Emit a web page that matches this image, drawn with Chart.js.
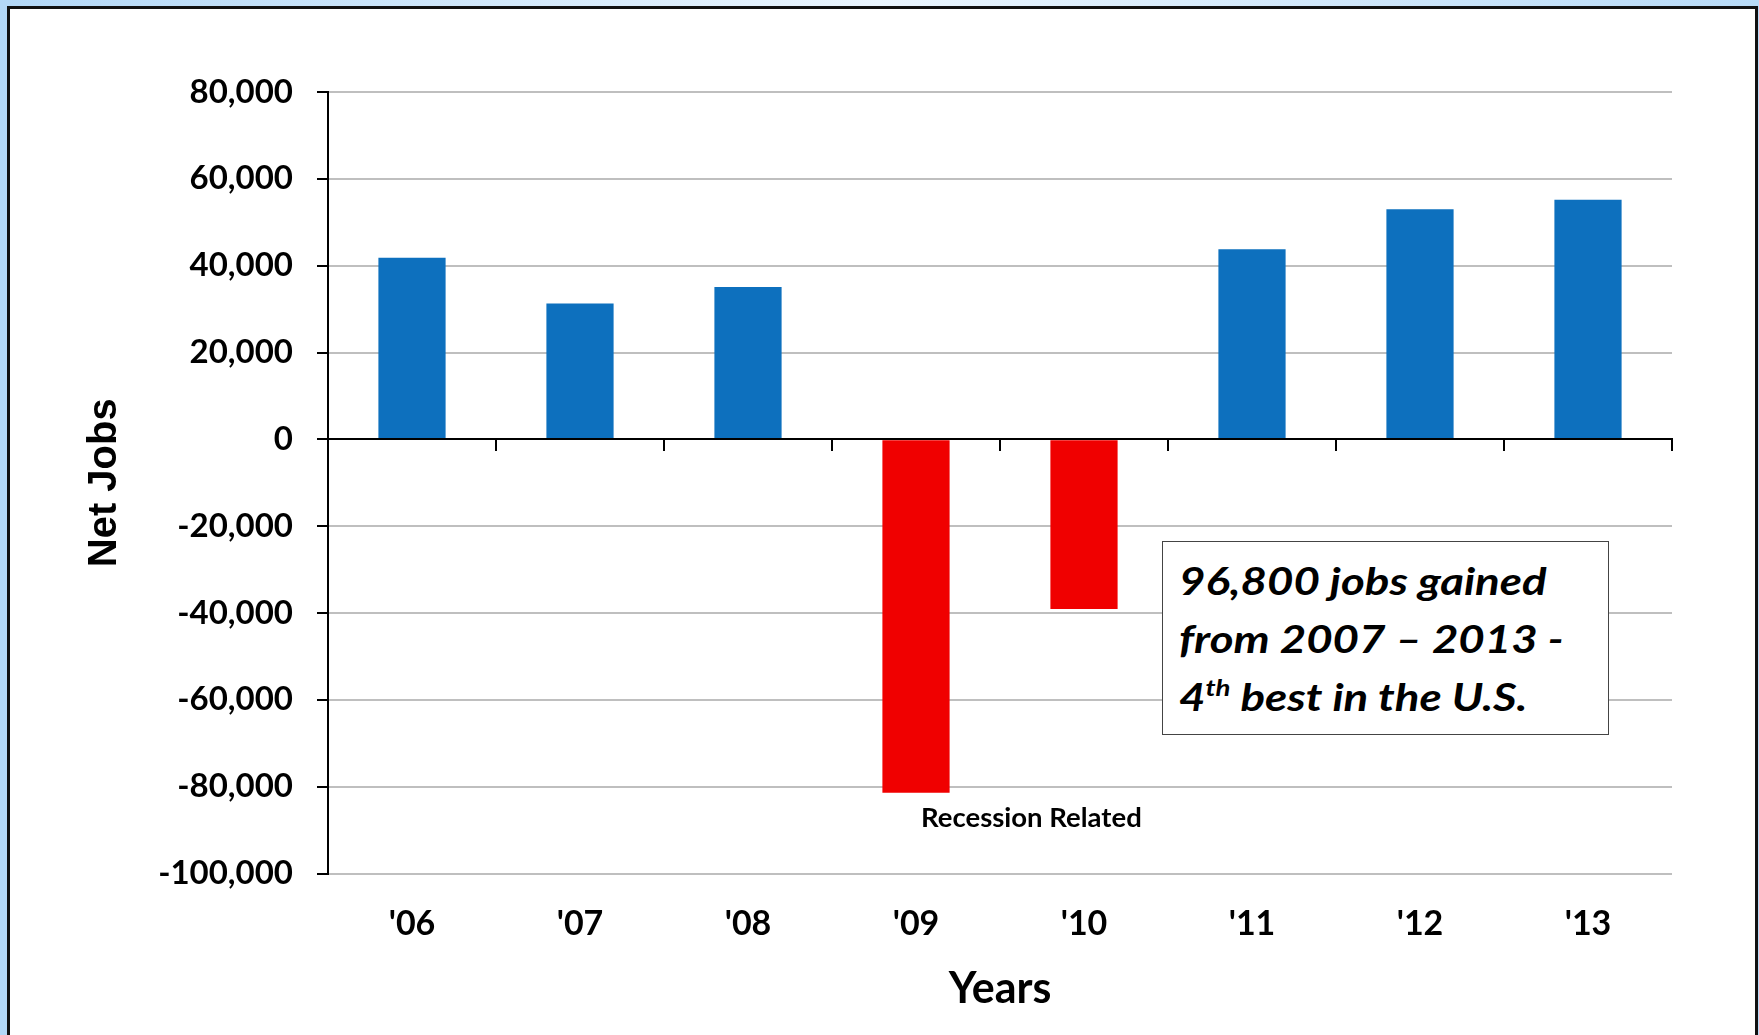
<!DOCTYPE html>
<html>
<head>
<meta charset="utf-8">
<script src="https://cdn.jsdelivr.net/npm/chart.js@4.4.1/dist/chart.umd.min.js"></script>
<style>
  html, body { margin: 0; padding: 0; width: 1759px; height: 1035px; overflow: hidden; }
  body { position: relative; background: linear-gradient(to right, #b3d8f7 0%, #eaf5fe 50%, #b8dbf8 100%); }
  #panel { position: absolute; left: 7px; top: 6px; width: 1751px; height: 1040px; background: #fff;
           border: 3px solid #111; box-sizing: border-box; }
  #chart { position: absolute; left: 0; top: 0; }
  #note { position: absolute; left: 1162px; top: 541px; width: 447px; height: 194px; box-sizing: border-box;
          border: 1.5px solid #444; background: #fff; color: #000; overflow: hidden; }
  #note .text { display: inline-block; transform: scaleX(1.2); transform-origin: 0 0;
                font-family: Lato, "Open Sans", sans-serif; font-weight: bold; font-style: italic;
                font-size: 38px; line-height: 58px; margin: 0 0 0 16px; position: relative; top: 9px;
                white-space: nowrap; }
  #note sup { font-size: 23px; line-height: 0; vertical-align: baseline; position: relative; top: -15px; }
</style>
</head>
<body>
<div id="panel"></div>
<canvas id="chart" width="1759" height="1035"></canvas>
<div id="note"><span class="text">96,800 jobs gained<br>from 2007 – 2013 -<br>4<sup>th</sup> best in the U.S.</span></div>
<script>
// Net jobs added per year
const years = ["'06", "'07", "'08", "'09", "'10", "'11", "'12", "'13"];
const netJobs = [41800, 31300, 35100, -81400, -39100, 43800, 53000, 55200];
const yTickValues = [-100000, -80000, -60000, -40000, -20000, 0, 20000, 40000, 60000, 80000];

const gainColor = '#0d70be';
const lossColor = '#f00000';

// Label under the recession-year bar
const recessionNote = {
  id: 'recessionNote',
  afterDatasetsDraw(chart) {
    const { ctx, scales: { x, y } } = chart;
    const i = years.indexOf("'09");
    ctx.save();
    ctx.font = 'bold 27.5px Lato';
    ctx.fillStyle = '#000';
    ctx.textAlign = 'left';
    ctx.textBaseline = 'alphabetic';
    ctx.fillText('Recession Related', x.getPixelForValue(i) + 5, y.getPixelForValue(netJobs[i]) + 34);
    ctx.restore();
  }
};

new Chart(document.getElementById('chart'), {
  type: 'bar',
  data: {
    labels: years,
    datasets: [{
      label: 'Net Jobs',
      data: netJobs,
      xAxisID: 'x',
      yAxisID: 'y',
      backgroundColor: netJobs.map(v => v < 0 ? lossColor : gainColor),
      borderWidth: 0,
      barPercentage: 0.4,
      categoryPercentage: 1.0
    }]
  },
  options: {
    responsive: false,
    animation: false,
    layout: { padding: { left: 0, top: 92, right: 87, bottom: 0 } },
    plugins: { legend: { display: false }, tooltip: { enabled: false } },
    scales: {
      // category axis sitting on the zero line, with boundary tick marks
      x: {
        type: 'category',
        labels: years,
        position: { y: 0 },
        offset: true,
        grid: { display: true, offset: true, drawOnChartArea: false, drawTicks: true, tickLength: 11,
                tickColor: '#000', tickWidth: 2, color: '#000', lineWidth: 2, z: 1 },
        border: { display: true, color: '#000', width: 2, z: 1 },
        ticks: { display: false }
      },
      // year labels along the bottom
      xYears: {
        type: 'category',
        labels: years,
        position: 'bottom',
        offset: true,
        grid: { display: false, drawTicks: false },
        border: { display: false },
        ticks: { font: { family: 'Lato', weight: 'bold', size: 34 }, color: '#000', padding: 30,
                 maxRotation: 0, autoSkip: false },
        title: { display: true, text: 'Years', color: '#000',
                 font: { family: 'Lato', weight: 'bold', size: 43 }, padding: { top: 0, bottom: 20 } },
        afterFit(s) { s.height = 161.5; }
      },
      y: {
        position: 'left',
        min: -100000,
        max: 80000,
        afterBuildTicks(s) { s.ticks = yTickValues.map(v => ({ value: v })); },
        grid: {
          color: c => (c.tick && c.tick.value === 0) ? 'rgba(0,0,0,0)' : '#bfbfbf',
          lineWidth: 2, drawTicks: true, tickLength: 11, tickColor: '#000', tickWidth: 2
        },
        border: { display: true, color: '#000', width: 2, z: 1 },
        ticks: { font: { family: 'Lato', weight: 'bold', size: 33 }, color: '#000', padding: 24,
                 callback: v => Number(v).toLocaleString('en-US') },
        title: { display: true, text: 'Net Jobs', color: '#000',
                 font: { family: '"Liberation Sans"', weight: 'bold', size: 40 }, padding: { top: 81, bottom: 0 } },
        afterFit(s) { s.width = 328; }
      }
    }
  },
  plugins: [recessionNote]
});
</script>
</body>
</html>
